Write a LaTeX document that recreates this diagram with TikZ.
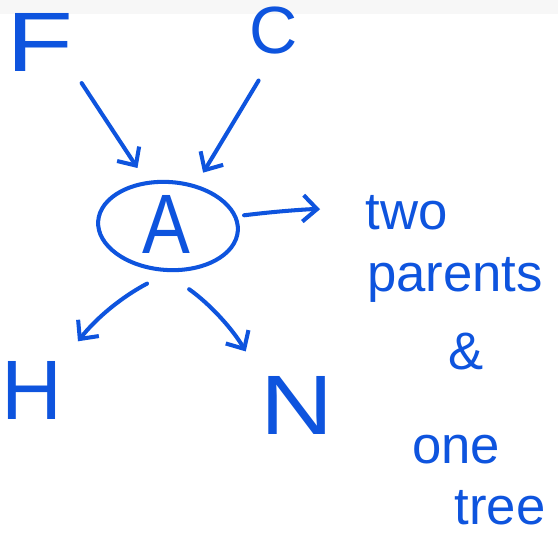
\documentclass[tikz,border=0pt]{standalone}
\usepackage{fontspec}
\setmainfont{Liberation Sans}
\usetikzlibrary{arrows.meta,shapes.geometric}
\definecolor{pen}{RGB}{14,84,222}
\tikzset{
  letter/.style={text=pen,font=\fontsize{48}{48}\selectfont,inner sep=0pt},
  note/.style={text=pen,font=\fontsize{30}{30}\selectfont,inner sep=0pt},
  stroke/.style={draw=pen,line width=2.3pt,line cap=round,line join=round},
  link/.style={stroke,-{Straight Barb[length=8pt,width=15pt]}}
}
\begin{document}
\begin{tikzpicture}[x=0.02cm,y=-0.02cm]
\useasboundingbox (0,0) rectangle (558,534);
\fill[white] (0,0) rectangle (558,534);
\fill[black!3] (0,0) rectangle (558,14);

\node[letter,xscale=1.3] (F) at (40,42) {F};
\node[letter,font=\fontsize{38}{38}\selectfont] (C) at (274,31) {C};
\node[letter,xscale=0.85] (A) at (166,224) {A};
\node[stroke,ellipse,rotate=-4,minimum width=2.8cm,minimum height=1.76cm] (ring) at (168,226) {};
\node[letter] (H) at (32,390) {H};
\node[letter,xscale=1.2] (N) at (297,405) {N};

\node[note] (two) at (407,213) {two};
\node[note] (parents) at (455,280) {parents};
\node[note] (amp) at (466,352) {\&};
\node[note] (one) at (456,450) {one};
\node[note] (tree) at (500,508) {tree};

\draw[link,shorten <=8pt,shorten >=9pt] (F.south east) -- (ring.120);
\draw[link,shorten <=17pt,shorten >=8pt] (C.south) -- (ring.60);
\draw[link,shorten <=4pt,shorten >=26pt] (ring) to[bend left=5] (two);
\draw[link,shorten <=14pt,shorten >=14pt] (ring.275) to[bend right=12] (H.north east);
\draw[link,shorten <=17pt,shorten >=16pt] (ring.south) to[bend left=12] (N.north west);
\end{tikzpicture}
\end{document}
